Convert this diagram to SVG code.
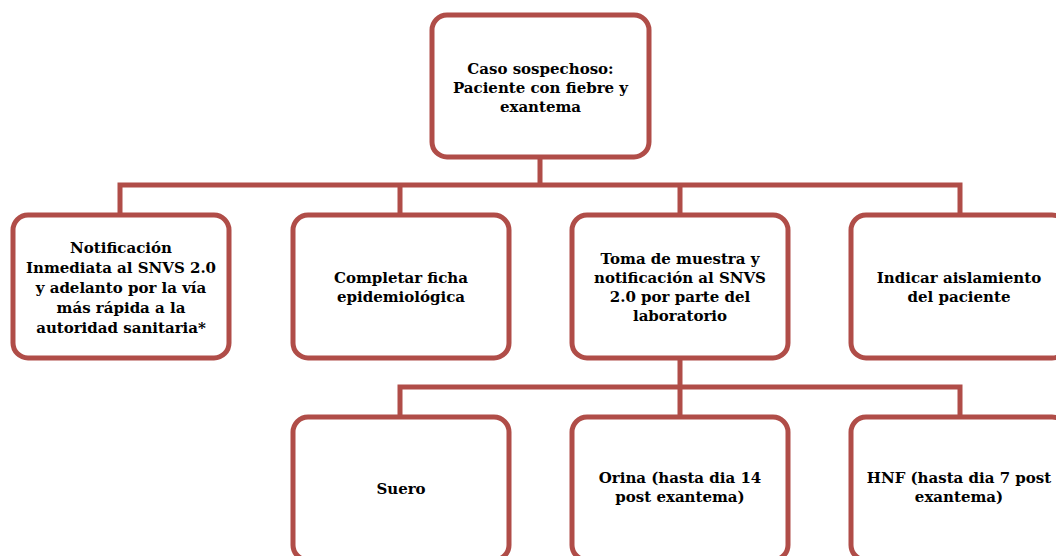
<svg xmlns="http://www.w3.org/2000/svg" width="1056" height="556" viewBox="0 0 1056 556">
<style>
.box{fill:#fff;stroke:#B04D48;stroke-width:5}
.conn{fill:none;stroke:#B04D48;stroke-width:5}
text{font-family:"DejaVu Serif","Liberation Serif",serif;font-weight:bold;font-size:15px;fill:#000;text-anchor:middle}
</style>
<rect width="1056" height="556" fill="#fff"/>
<g id="connectors">
<path class="conn" d="M540 157V185M120 213V185H960V213M400 185V213M680 185V213"/>
<path class="conn" d="M680 359V387M400 415V387H960V415M680 387V415"/>
</g>
<g id="n0"><rect class="box" x="432" y="15" width="217" height="142" rx="15"/>
<text x="540.5" y="74">Caso sospechoso:</text><text x="540.5" y="93">Paciente con fiebre y</text><text x="540.5" y="112">exantema</text></g>
<g id="n1"><rect class="box" x="13" y="215" width="216" height="143" rx="15"/>
<text x="121" y="253">Notificación</text><text x="121" y="273">Inmediata al SNVS 2.0</text><text x="121" y="293">y adelanto por la vía</text><text x="121" y="313">más rápida a la</text><text x="121" y="333">autoridad sanitaria*</text></g>
<g id="n2"><rect class="box" x="293" y="215" width="216" height="143" rx="15"/>
<text x="401" y="283">Completar ficha</text><text x="401" y="302">epidemiológica</text></g>
<g id="n3"><rect class="box" x="572" y="215" width="216" height="143" rx="15"/>
<text x="680" y="264">Toma de muestra y</text><text x="680" y="283">notificación al SNVS</text><text x="680" y="302">2.0 por parte del</text><text x="680" y="321">laboratorio</text></g>
<g id="n4"><rect class="box" x="851" y="215" width="216" height="143" rx="15"/>
<text x="959" y="283">Indicar aislamiento</text><text x="959" y="302">del paciente</text></g>
<g id="n5"><rect class="box" x="293" y="417" width="216" height="143" rx="15"/>
<text x="401" y="494">Suero</text></g>
<g id="n6"><rect class="box" x="572" y="417" width="216" height="143" rx="15"/>
<text x="680" y="483">Orina (hasta dia 14</text><text x="680" y="502">post exantema)</text></g>
<g id="n7"><rect class="box" x="851" y="417" width="216" height="143" rx="15"/>
<text x="959" y="483">HNF (hasta dia 7 post</text><text x="959" y="502">exantema)</text></g>
</svg>
